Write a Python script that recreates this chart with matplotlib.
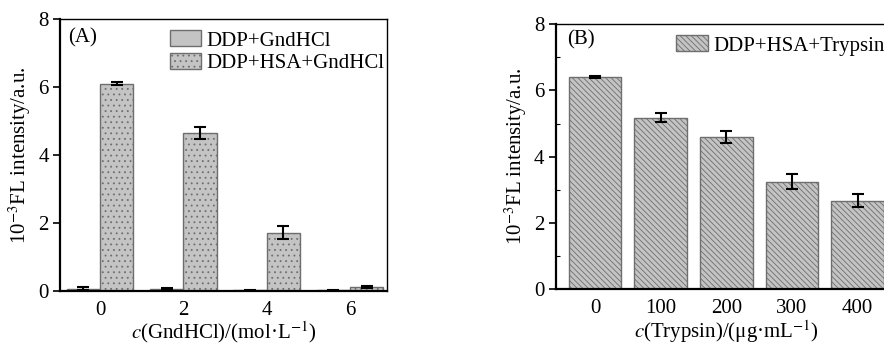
import numpy as np
import matplotlib
matplotlib.use('Agg')
import matplotlib.pyplot as plt

plt.rcParams['font.family'] = ['Liberation Serif', 'DejaVu Serif']
plt.rcParams['mathtext.fontset'] = 'stix'
plt.rcParams['hatch.linewidth'] = 0.6

# panel A data
gnd_conc = ['0', '2', '4', '6']
ddp_gnd = [0.07, 0.06, 0.02, 0.02]
ddp_gnd_err = [0.04, 0.03, 0.01, 0.01]
ddp_hsa_gnd = [6.1, 4.65, 1.72, 0.12]
ddp_hsa_gnd_err = [0.04, 0.17, 0.18, 0.03]

# panel B data
tryp_conc = ['0', '100', '200', '300', '400']
ddp_hsa_tryp = [6.4, 5.18, 4.6, 3.25, 2.67]
ddp_hsa_tryp_err = [0.04, 0.13, 0.18, 0.22, 0.19]

fill = '#c4c4c4'
edge = '#6e6e6e'
fs = 15

fig = plt.figure(figsize=(8.84, 3.45), dpi=100)
axA = fig.add_axes([0.0679, 0.1565, 0.37, 0.788])
axB = fig.add_axes([0.6286, 0.1614, 0.386, 0.769])

# ---- panel A
x = np.arange(len(gnd_conc))
w = 0.4
axA.bar(x - w/2, ddp_gnd, w, color=fill, edgecolor=edge, linewidth=1.0, label='DDP+GndHCl')
axA.bar(x + w/2, ddp_hsa_gnd, w, color=fill, edgecolor=edge, linewidth=1.0, hatch='...', label='DDP+HSA+GndHCl')
axA.errorbar(x - w/2, ddp_gnd, yerr=ddp_gnd_err, fmt='none', ecolor='black', elinewidth=1.5, capsize=4, capthick=1.5)
axA.errorbar(x + w/2, ddp_hsa_gnd, yerr=ddp_hsa_gnd_err, fmt='none', ecolor='black', elinewidth=1.5, capsize=4, capthick=1.5)
axA.set_xticks(x)
axA.set_xticklabels(gnd_conc)
axA.set_xlim(-0.48, 3.445)
axA.set_ylim(0, 8)
axA.set_yticks([0, 2, 4, 6, 8])
axA.set_xlabel('$c$(GndHCl)/(mol·L$^{-1}$)', fontsize=fs, labelpad=0)
axA.set_ylabel('10$^{-3}$FL intensity/a.u.', fontsize=fs, labelpad=4)
axA.text(0.025, 0.93, '(A)', transform=axA.transAxes, fontsize=fs, va='center', ha='left')
axA.legend(loc='upper left', bbox_to_anchor=(0.286, 1.02), frameon=False, fontsize=fs,
           handlelength=1.5, handleheight=0.8, handletextpad=0.25, labelspacing=0.1, borderpad=0.3)

# ---- panel B
xb = np.arange(len(tryp_conc))
axB.bar(xb, ddp_hsa_tryp, 0.8, color=fill, edgecolor=edge, linewidth=1.0, hatch='\\' * 6, label='DDP+HSA+Trypsin')
axB.errorbar(xb, ddp_hsa_tryp, yerr=ddp_hsa_tryp_err, fmt='none', ecolor='black', elinewidth=1.5, capsize=4, capthick=1.5)
axB.set_xticks(xb)
axB.set_xticklabels(tryp_conc)
axB.set_xlim(-0.6, 4.6)
axB.set_ylim(0, 8)
axB.set_yticks([0, 2, 4, 6, 8])
axB.set_yticks([1, 3, 5, 7], minor=True)
axB.set_xlabel('$c$(Trypsin)/(μg·mL$^{-1}$)', fontsize=fs, labelpad=0)
axB.set_ylabel('10$^{-3}$FL intensity/a.u.', fontsize=fs, labelpad=4)
axB.text(0.033, 0.94, '(B)', transform=axB.transAxes, fontsize=fs, va='center', ha='left')
axB.legend(loc='upper left', bbox_to_anchor=(0.305, 1.02), frameon=False, fontsize=fs,
           handlelength=1.5, handleheight=0.8, handletextpad=0.25, borderpad=0.3)

for ax in (axA, axB):
    ax.spines['left'].set_linewidth(1.6)
    ax.spines['bottom'].set_linewidth(1.6)
    ax.spines['top'].set_linewidth(1.0)
    ax.spines['right'].set_linewidth(1.0)
    ax.tick_params(axis='x', length=0, labelsize=fs, pad=7)
    ax.tick_params(axis='y', which='major', direction='out', length=5, width=1.2, labelsize=fs, pad=3)
    ax.tick_params(axis='y', which='minor', direction='in', length=3, width=0.8)

fig.savefig('out.png', dpi=100)
